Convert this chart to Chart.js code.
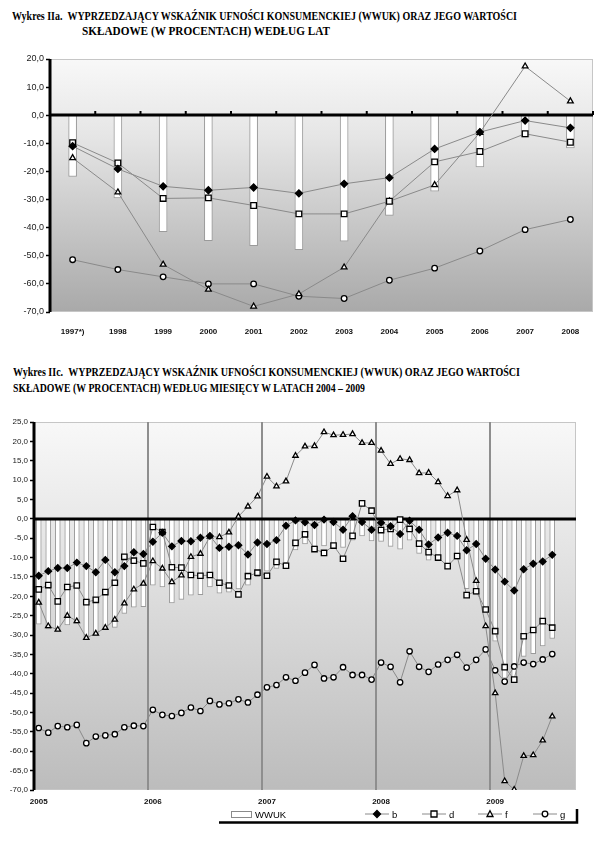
<!DOCTYPE html>
<html>
<head>
<meta charset="utf-8">
<script src="https://cdn.jsdelivr.net/npm/chart.js@4.4.1/dist/chart.umd.min.js"></script>
<style>
  body { margin: 0; background: #fff; width: 600px; height: 845px; position: relative; overflow: hidden; }
  .title { position: absolute; font-family: "Liberation Serif", "Times New Roman", serif; font-weight: bold;
           font-size: 11.5px; line-height: 11px; white-space: nowrap; transform-origin: 0 0; color: #000; }
  .box { position: absolute; left: 0; width: 600px; }
</style>
</head>
<body>
<div class="title" id="t1" data-w="505" style="left:12px;top:11px">Wykres IIa.&nbsp;&nbsp;WYPRZEDZAJĄCY WSKAŹNIK UFNOŚCI KONSUMENCKIEJ (WWUK) ORAZ JEGO WARTOŚCI</div>
<div class="title" id="t2" data-w="248" style="left:82px;top:26px">SKŁADOWE (W PROCENTACH) WEDŁUG LAT</div>
<div class="title" id="t3" data-w="507" style="left:13px;top:367px">Wykres IIc.&nbsp;&nbsp;WYPRZEDZAJĄCY WSKAŹNIK UFNOŚCI KONSUMENCKIEJ (WWUK) ORAZ JEGO WARTOŚCI</div>
<div class="title" id="t4" data-w="352" style="left:13px;top:383px">SKŁADOWE (W PROCENTACH) WEDŁUG MIESIĘCY W LATACH 2004 – 2009</div>

<div class="box" style="top:45px;height:295px"><canvas id="yearChart"></canvas></div>
<div class="box" style="top:405px;height:425px"><canvas id="monthChart"></canvas></div>

<script>
// ---- annual data (Wykres IIa) ----
const years = ['1997*)','1998','1999','2000','2001','2002','2003','2004','2005','2006','2007','2008'];
const wwukYear = [-21.8,-29.4,-41.4,-44.6,-46.4,-47.8,-44.8,-35.6,-27.0,-18.4,-7.8,-11.6];
const bYear = [-11.0,-19.1,-25.3,-26.7,-25.7,-27.8,-24.4,-22.2,-12.0,-6.0,-1.9,-4.5];
const dYear = [-9.8,-17.0,-29.6,-29.4,-32.1,-35.1,-35.1,-30.6,-16.6,-12.9,-6.6,-9.6];
const fYear = [-15.2,-27.4,-53.1,-62.0,-68.0,-63.6,-54.1,-30.6,-24.8,-6.2,17.4,5.0];
const gYear = [-51.4,-54.9,-57.5,-60.0,-60.0,-64.4,-65.2,-58.7,-54.4,-48.3,-40.7,-37.1];

// ---- monthly data (Wykres IIc), Jan 2005 .. Jul 2009 ----
const monthYears = ['2005','2006','2007','2008','2009'];
const monthSlots = 57; // axis runs to Sep 2009
const wwukMonth = [-27.2,-28.4,-29.0,-27.4,-27.0,-30.6,-30.1,-28.4,-28.0,-24.4,-22.8,-22.7,
  -17.1,-17.6,-21.7,-20.8,-19.7,-19.6,-17.6,-19.2,-18.9,-18.1,-17.1,-14.9,
  -13.5,-12.8,-11.3,-8.0,-6.5,-7.1,-7.0,-6.8,-7.4,-5.5,-4.4,-5.7,
  -5.8,-7.1,-7.8,-5.5,-8.9,-10.7,-10.7,-11.6,-10.5,-18.0,-19.5,-23.8,
  -31.6,-41.1,-42.1,-35.5,-34.8,-32.8,-30.9];
const bMonth = [-14.7,-13.5,-12.7,-12.7,-11.3,-12.2,-13.8,-10.6,-13.8,-12.2,-8.6,-9.1,
  -5.9,-3.6,-7.1,-5.7,-5.8,-4.9,-4.4,-7.5,-7.2,-6.8,-9.2,-6.1,
  -6.5,-5.5,-1.8,-0.4,-0.9,-1.6,-0.2,-0.8,-2.8,0.7,-0.8,-2.8,
  -1.0,-1.9,-3.9,-0.5,-2.8,-6.6,-4.8,-3.6,-4.4,-8.1,-6.5,-10.3,
  -13.1,-16.2,-18.5,-13.0,-11.6,-11.0,-9.3];
const dMonth = [-18.2,-17.1,-21.3,-17.6,-17.2,-21.5,-20.9,-18.9,-16.5,-9.8,-10.8,-11.5,
  -2.1,-3.4,-12.5,-12.6,-14.5,-14.7,-14.5,-16.5,-17.2,-19.5,-14.8,-13.9,
  -14.7,-11.1,-12.1,-6.2,-4.0,-7.8,-8.8,-6.9,-10.3,-4.4,4.0,2.1,
  -2.9,-2.6,-0.2,-2.6,-6.4,-8.6,-10.0,-12.2,-9.6,-19.7,-18.7,-23.4,
  -29.0,-38.3,-41.5,-30.3,-28.7,-26.4,-28.1];
const fMonth = [-21.6,-27.7,-28.6,-25.0,-26.4,-30.7,-29.6,-28.1,-26.0,-21.8,-18.2,-16.7,
  -10.9,-12.8,-16.3,-14.6,-9.8,-9.0,-4.6,-4.7,-3.5,0.6,3.2,5.8,
  10.9,8.4,9.7,16.3,18.7,18.8,22.4,21.6,21.7,21.9,19.6,19.6,
  17.6,14.2,15.5,15.2,11.8,11.9,9.5,5.9,7.4,-5.4,-16.0,-27.7,
  -45.0,-67.7,-69.9,-61.2,-61.0,-57.2,-51.0];
const gMonth = [-54.0,-55.2,-53.5,-53.8,-53.2,-57.9,-56.2,-55.9,-55.6,-53.8,-53.4,-53.5,
  -49.3,-50.6,-50.9,-50.1,-48.7,-49.6,-47.0,-47.9,-47.6,-46.6,-47.4,-45.4,
  -43.5,-42.9,-40.9,-41.8,-39.7,-37.7,-41.2,-40.9,-38.3,-40.3,-40.3,-41.5,
  -37.1,-38.2,-42.2,-34.2,-38.2,-39.5,-37.6,-36.4,-35.1,-38.4,-36.4,-33.7,
  -39.1,-42.0,-38.1,-37.1,-37.5,-36.3,-34.9];

// month labels: year name on January, blank otherwise
const monthLabels = [];
for (let i = 0; i < monthSlots; i++) monthLabels.push(i % 12 === 0 ? monthYears[i / 12] : '');

// squeeze titles to the width they have in the original
document.querySelectorAll('.title').forEach(el => {
  const w = el.getBoundingClientRect().width;
  el.style.transform = 'scaleX(' + (el.dataset.w / w) + ')';
});

Chart.defaults.font.family = '"Liberation Sans", Arial, sans-serif';
Chart.defaults.color = '#222';

const fmt = v => v.toFixed(1).replace('.', ',');

// gradient background, plot frame, thick axis lines
const plotDeco = {
  id: 'plotDeco',
  beforeDraw(chart, args, opts) {
    const { ctx, chartArea: a } = chart;
    const g = ctx.createLinearGradient(0, a.top, 0, a.bottom);
    opts.stops.forEach(s => g.addColorStop(s[0], s[1]));
    ctx.save();
    ctx.fillStyle = g;
    ctx.fillRect(a.left, a.top, a.right - a.left, a.bottom - a.top);
    ctx.strokeStyle = '#c6c6c6';
    ctx.lineWidth = 1;
    ctx.strokeRect(a.left + 0.5, a.top + 0.5, a.right - a.left - 1, a.bottom - a.top - 1);
    ctx.restore();
  },
  beforeDatasetsDraw(chart) {
    // y axis: heavy black line
    const { ctx, chartArea: a } = chart;
    ctx.save();
    ctx.strokeStyle = '#000';
    ctx.lineWidth = 3;
    ctx.beginPath();
    ctx.moveTo(a.left, a.top);
    ctx.lineTo(a.left, a.bottom);
    ctx.stroke();
    ctx.restore();
  },
  afterDatasetDraw(chart, args, opts) {
    if (args.meta.type !== 'bar') return;
    const { ctx, chartArea: a, scales } = chart;
    const y0 = Math.round(scales.y.getPixelForValue(0));
    ctx.save();
    ctx.strokeStyle = '#000';
    ctx.lineWidth = 3;
    ctx.beginPath();
    ctx.moveTo(a.left, y0);
    ctx.lineTo(a.right, y0);
    ctx.stroke();
    if (opts.marks) {
      const n = chart.data.labels.length;
      const half = (scales.x.getPixelForValue(1) - scales.x.getPixelForValue(0)) / 2;
      ctx.lineWidth = 2;
      for (let i = 0; i < n; i++) {
        const x = scales.x.getPixelForValue(i) + half;
        ctx.beginPath();
        ctx.moveTo(x, y0 - 4);
        ctx.lineTo(x, y0);
        ctx.stroke();
      }
    }
    ctx.restore();
  }
};

function lineSet(label, data, style, fill, r) {
  return {
    type: 'line', label: label, data: data, order: 1,
    borderColor: '#8a8a8a', borderWidth: 1,
    pointStyle: style, pointRadius: r, pointBackgroundColor: fill,
    pointBorderColor: '#000', pointBorderWidth: 1.3, tension: 0
  };
}

function yAxis(min, max, step, width, size) {
  return {
    min: min, max: max,
    afterFit: s => { s.width = width; },
    border: { display: false },
    grid: { drawOnChartArea: false, drawTicks: true, tickLength: 4, tickColor: '#000', tickWidth: 1.5 },
    ticks: { stepSize: step, padding: 2, color: '#1a1a1a', font: { size: size }, callback: v => fmt(v) }
  };
}

// ---- Wykres IIa ----
new Chart(document.getElementById('yearChart'), {
  type: 'bar',
  data: {
    labels: years,
    datasets: [
      { type: 'bar', label: 'WWUK', data: wwukYear, order: 10, backgroundColor: '#fff',
        borderColor: '#9a9a9a', borderWidth: 1, barThickness: 8 },
      lineSet('b', bYear, 'rectRot', '#000', 3.5),
      lineSet('d', dYear, 'rect', '#fff', 4),
      lineSet('f', fYear, 'triangle', '#fff', 3.3),
      lineSet('g', gYear, 'circle', '#fff', 2.8)
    ]
  },
  options: {
    responsive: true, maintainAspectRatio: false, animation: false,
    layout: { padding: { top: 14, right: 7, left: 0, bottom: 0 } },
    plugins: {
      legend: { display: false }, tooltip: { enabled: false },
      plotDeco: { marks: true, stops: [[0, '#f8f8f8'], [0.3, '#e6e6e6'], [1, '#a9a9a9']] }
    },
    scales: {
      x: {
        afterFit: s => { s.height = 28; },
        border: { display: false },
        grid: { display: false },
        ticks: { padding: 7, color: '#111', font: { size: 8, weight: 'bold' } }
      },
      y: yAxis(-70, 20, 10, 50, 9)
    }
  },
  plugins: [plotDeco]
});

// legend drawn under the monthly chart
const monthLegend = {
  id: 'monthLegend',
  afterDraw(chart) {
    const ctx = chart.ctx;
    const y = 409;
    ctx.save();
    // frame line under and right of the legend
    ctx.strokeStyle = '#000';
    ctx.lineWidth = 2.5;
    ctx.beginPath();
    ctx.moveTo(219, 417.5);
    ctx.lineTo(577, 417.5);
    ctx.lineTo(577, 404);
    ctx.stroke();
    // WWUK swatch
    ctx.fillStyle = '#fff';
    ctx.strokeStyle = '#8a8a8a';
    ctx.lineWidth = 1;
    ctx.fillRect(231, y - 3, 20, 6);
    ctx.strokeRect(231.5, y - 2.5, 20, 6);
    ctx.fillStyle = '#000';
    ctx.font = '9.5px "Liberation Sans", Arial, sans-serif';
    ctx.textBaseline = 'middle';
    ctx.fillText('WWUK', 255, y + 1);
    const items = [
      { t: 'b', x: 365, s: 'diamond' }, { t: 'd', x: 422, s: 'square' },
      { t: 'f', x: 478, s: 'triangle' }, { t: 'g', x: 533, s: 'circle' }
    ];
    items.forEach(it => {
      ctx.strokeStyle = '#8a8a8a';
      ctx.lineWidth = 1;
      ctx.beginPath();
      ctx.moveTo(it.x, y); ctx.lineTo(it.x + 24, y); ctx.stroke();
      const cx = it.x + 12;
      ctx.strokeStyle = '#000';
      ctx.lineWidth = 1.3;
      ctx.fillStyle = it.s === 'diamond' ? '#000' : '#fff';
      ctx.beginPath();
      if (it.s === 'diamond') { ctx.moveTo(cx, y - 3.5); ctx.lineTo(cx + 3.5, y); ctx.lineTo(cx, y + 3.5); ctx.lineTo(cx - 3.5, y); ctx.closePath(); }
      else if (it.s === 'square') { ctx.rect(cx - 3, y - 3, 6, 6); }
      else if (it.s === 'triangle') { ctx.moveTo(cx, y - 3.3); ctx.lineTo(cx + 3, y + 2.5); ctx.lineTo(cx - 3, y + 2.5); ctx.closePath(); }
      else { ctx.arc(cx, y, 2.8, 0, Math.PI * 2); }
      ctx.fill(); ctx.stroke();
      ctx.fillStyle = '#000';
      ctx.fillText(it.t, it.x + 27, y + 1);
    });
    ctx.restore();
  }
};

// ---- Wykres IIc ----
new Chart(document.getElementById('monthChart'), {
  type: 'bar',
  data: {
    labels: monthLabels,
    datasets: [
      { type: 'bar', label: 'WWUK', data: wwukMonth, order: 10, backgroundColor: '#fff',
        borderColor: '#9a9a9a', borderWidth: 1, barThickness: 5 },
      lineSet('b', bMonth, 'rectRot', '#000', 3.3),
      lineSet('d', dMonth, 'rect', '#fff', 3.8),
      lineSet('f', fMonth, 'triangle', '#fff', 3.1),
      lineSet('g', gMonth, 'circle', '#fff', 2.7)
    ]
  },
  options: {
    responsive: true, maintainAspectRatio: false, animation: false,
    layout: { padding: { top: 17, right: 24, left: 0, bottom: 0 } },
    plugins: {
      legend: { display: false }, tooltip: { enabled: false },
      plotDeco: { marks: false, stops: [[0, '#f8f8f8'], [0.35, '#e4e4e4'], [1, '#bcbcbc']] }
    },
    scales: {
      x: {
        afterFit: s => { s.height = 40; },
        border: { display: false },
        grid: {
          drawTicks: false,
          color: c => (c.index % 12 === 0 && c.index > 0) ? '#8e8e8e' : 'rgba(0,0,0,0)',
          lineWidth: 2
        },
        ticks: { autoSkip: false, maxRotation: 0, padding: 7, color: '#111', font: { size: 8, weight: 'bold' } }
      },
      y: yAxis(-70, 25, 5, 34, 8)
    }
  },
  plugins: [plotDeco, monthLegend]
});
</script>
</body>
</html>
